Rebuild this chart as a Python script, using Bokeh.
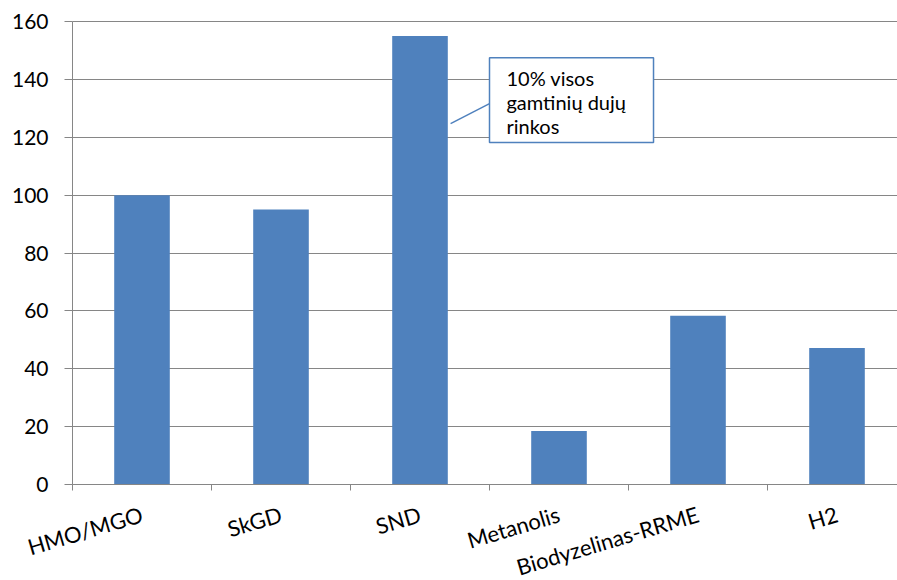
from bokeh.plotting import figure
from bokeh.models import ColumnDataSource, FixedTicker, Label, BoxAnnotation, Range1d
from bokeh.embed import file_html
from bokeh.resources import INLINE

categories = ["HMO/MGO", "SkGD", "SND", "Metanolis", "Biodyzelinas-RRME", "H2"]
values = [100, 95, 155, 18.5, 58.3, 47.2]
y_ticks = [0, 20, 40, 60, 80, 100, 120, 140, 160]
callout_text = "10% visos\ngamtinių dujų\nrinkos"

FONT = "Lato"
BLUE = "#4F81BD"
GRAY = "#868686"

# layout (pixels): the frame covers the whole canvas, axes are placed at x=0 / y=0
W, H = 897, 580
LEFT, TOP = 72, 21
PX_PER_CAT = 139.0
PX_PER_UNIT = 463.0 / 160.0
Y_MAX = 160
n = len(categories)
X_MIN = -LEFT / PX_PER_CAT
X_MAX = (W - LEFT) / PX_PER_CAT
Y_TOP = Y_MAX + TOP / PX_PER_UNIT
Y_MIN = Y_TOP - H / PX_PER_UNIT

x = [i + 0.5 for i in range(n)]
src = ColumnDataSource(dict(x=x, top=values))

p = figure(width=W, height=H, output_backend="svg", toolbar_location=None,
           x_range=Range1d(X_MIN, X_MAX), y_range=Range1d(Y_MIN, Y_TOP),
           min_border=0, min_border_left=0, min_border_top=0,
           min_border_bottom=0, min_border_right=0)
p.outline_line_color = None
p.background_fill_color = "white"
p.xgrid.visible = False

p.ygrid.ticker = FixedTicker(ticks=y_ticks)
p.ygrid.grid_line_color = GRAY
p.ygrid.grid_line_width = 1
p.ygrid.cross_bounds = (0, X_MAX)

ya = p.yaxis[0]
ya.fixed_location = 0
ya.ticker = FixedTicker(ticks=y_ticks)
ya.bounds = (0, Y_MAX)
ya.axis_line_color = GRAY
ya.major_tick_line_color = GRAY
ya.major_tick_in = 0
ya.major_tick_out = 8
ya.minor_tick_line_color = None
ya.major_label_text_font = FONT
ya.major_label_text_font_size = "21px"
ya.major_label_text_color = "black"
ya.major_label_standoff = 16

# x axis drawn at y = 0; labels at category centres, tick marks at boundaries
xa = p.xaxis[0]
xa.fixed_location = 0
xa.bounds = (0, X_MAX)
xa.ticker = FixedTicker(ticks=x, minor_ticks=list(range(n + 1)))
xa.major_label_overrides = {xi: c for xi, c in zip(x, categories)}
xa.major_label_orientation = 0.29
xa.major_label_text_font = FONT
xa.major_label_text_font_size = "22px"
xa.major_label_text_color = "black"
xa.major_label_standoff = 23
xa.axis_line_color = GRAY
xa.major_tick_line_color = None
xa.major_tick_in = 0
xa.major_tick_out = 0
xa.minor_tick_line_color = GRAY
xa.minor_tick_in = 0
xa.minor_tick_out = 6

p.vbar(x="x", top="top", bottom=0, width=0.4, source=src, fill_color=BLUE, line_color=None)

# callout
p.segment(x0=[2.72], y0=[124.7], x1=[3.0], y1=[131.6], line_color=BLUE, line_width=1.5)
box = BoxAnnotation(left=3.0, right=4.18, top=147.5, bottom=118.2,
                    fill_color="white", fill_alpha=1.0,
                    line_color=BLUE, line_width=1.5, line_alpha=1.0)
p.add_layout(box)
p.add_layout(Label(x=3.122, y=144.6, text=callout_text, text_font=FONT,
                   text_font_size="20px", text_color="black",
                   text_align="left", text_baseline="top", text_line_height=1.0))

open("out.html", "w").write(file_html(p, INLINE))
